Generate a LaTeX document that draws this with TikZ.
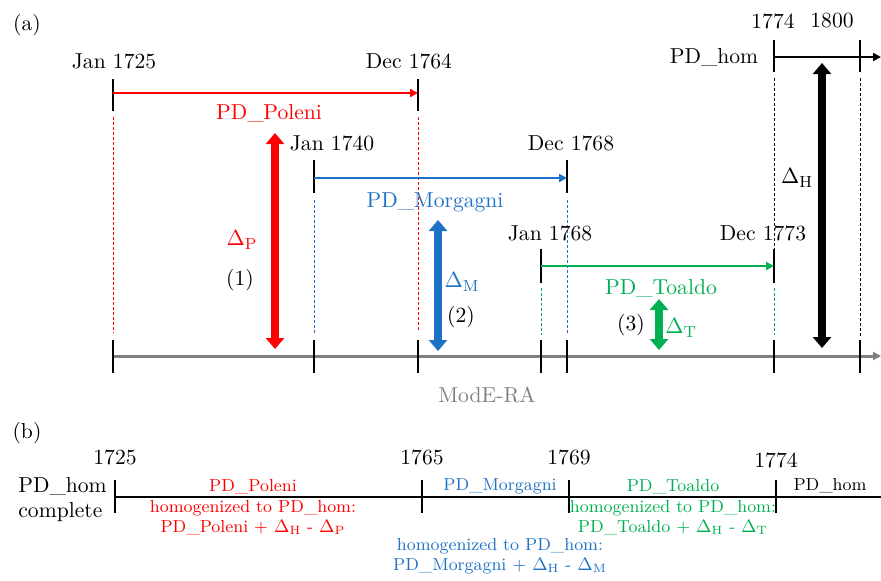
\documentclass[tikz,border=0pt]{standalone}
\usepackage{tikz}
\usetikzlibrary{arrows.meta,positioning}

\definecolor{polenired}{RGB}{255,0,0}
\definecolor{morgagniblue}{RGB}{30,114,198}
\definecolor{toaldogreen}{RGB}{0,176,80}
\definecolor{moderagray}{RGB}{128,128,128}

\tikzset{
  tickline/.style={line width=1.2pt},
  spanline/.style={line width=1pt,-{Triangle[length=4pt,width=4pt]}},
  guideline/.style={line width=0.5pt,dash pattern=on 1.5pt off 1pt},
  deltaarrow/.style={line width=4pt,{Triangle[length=5.5pt,width=9pt]}-{Triangle[length=5.5pt,width=9pt]}},
  bigtext/.style={inner sep=0pt,font=\fontsize{10.8}{12.5}\selectfont},
  smalltext/.style={inner sep=0pt,align=center,font=\fontsize{8.7}{10}\selectfont},
}

\begin{document}
\begin{tikzpicture}[x=0.5pt,y=-0.5pt]
\useasboundingbox (0,0) rectangle (881,580);

%----- (a) -----
\node[bigtext] (taga) at (27,25) {(a)};

% ModE-RA の軸
\coordinate (mleft) at (113,356);
\coordinate (mright) at (881,356);
\draw[moderagray,line width=1.5pt,-{Triangle[length=4pt,width=4pt]}] (mleft) -- (mright);
\foreach \xx in {113,314,418,541,567,774,860}
  \draw[tickline] (\xx,340) -- (\xx,373);
\node[bigtext,text=moderagray] (modera) at (487,395) {ModE-RA};

% PD_Poleni
\coordinate (poleniA) at (113,93);
\coordinate (poleniB) at (418,93);
\draw[tickline] (poleniA) +(0,-14) -- +(0,18);
\draw[tickline] (poleniB) +(0,-14) -- +(0,18);
\draw[spanline,polenired] (poleniA) -- (poleniB);
\node[bigtext] (poleniStart) at (114,61) {Jan 1725};
\node[bigtext] (poleniEnd) at (409,61) {Dec 1764};
\node[bigtext,text=polenired] (poleniName) at (269,113) {PD\_Poleni};
\draw[guideline,polenired] (113,117) -- (113,333);
\draw[guideline,polenired] (418,117) -- (418,331);
\coordinate (deltaPtop) at (275,133);
\coordinate (deltaPbot) at (275,349);
\draw[deltaarrow,polenired] (deltaPtop) -- (deltaPbot);
\node[bigtext,text=polenired] (deltaP) at (242,240) {$\Delta_{\mathrm{P}}$};
\node[bigtext] (num1) at (240,280) {(1)};

% PD_Morgagni
\coordinate (morgagniA) at (314,178);
\coordinate (morgagniB) at (567,178);
\draw[tickline] (morgagniA) +(0,-18) -- +(0,15);
\draw[tickline] (morgagniB) +(0,-18) -- +(0,15);
\draw[spanline,morgagniblue] (morgagniA) -- (morgagniB);
\node[bigtext] (morgagniStart) at (332,143) {Jan 1740};
\node[bigtext] (morgagniEnd) at (571,143) {Dec 1768};
\node[bigtext,text=morgagniblue] (morgagniName) at (435,202) {PD\_Morgagni};
\draw[guideline,morgagniblue] (314,200) -- (314,335);
\draw[guideline,morgagniblue] (567,200) -- (567,335);
\coordinate (deltaMtop) at (438,220);
\coordinate (deltaMbot) at (438,351);
\draw[deltaarrow,morgagniblue] (deltaMtop) -- (deltaMbot);
\node[bigtext,text=morgagniblue] (deltaM) at (462,282) {$\Delta_{\mathrm{M}}$};
\node[bigtext] (num2) at (461,317) {(2)};

% PD_Toaldo
\coordinate (toaldoA) at (541,266);
\coordinate (toaldoB) at (774,266);
\draw[tickline] (toaldoA) +(0,-17) -- +(0,17);
\draw[tickline] (toaldoB) +(0,-17) -- +(0,17);
\draw[spanline,toaldogreen] (toaldoA) -- (toaldoB);
\node[bigtext] (toaldoStart) at (550,233) {Jan 1768};
\node[bigtext] (toaldoEnd) at (763,233) {Dec 1773};
\node[bigtext,text=toaldogreen] (toaldoName) at (661,288) {PD\_Toaldo};
\draw[guideline,toaldogreen] (541,288) -- (541,335);
\draw[guideline,toaldogreen] (774,288) -- (774,335);
\coordinate (deltaTtop) at (659,299);
\coordinate (deltaTbot) at (659,350);
\draw[deltaarrow,toaldogreen] (deltaTtop) -- (deltaTbot);
\node[bigtext] (num3) at (631,325) {(3)};
\node[bigtext,text=toaldogreen] (deltaT) at (681,328) {$\Delta_{\mathrm{T}}$};

% PD_hom
\coordinate (homA) at (774,57);
\coordinate (homB) at (881,57);
\draw[tickline] (homA) +(0,-17) -- +(0,15);
\draw[tickline] (860,40) -- (860,72);
\draw[spanline] (homA) -- (homB);
\node[bigtext] (homStart) at (773,21) {1774};
\node[bigtext] (homMark) at (832,21) {1800};
\node[bigtext] (homName) at (714,57) {PD\_hom};
\draw[guideline] (774,78) -- (774,250);
\draw[guideline] (860,78) -- (860,336);
\coordinate (deltaHtop) at (822,63);
\coordinate (deltaHbot) at (822,348);
\draw[deltaarrow] (deltaHtop) -- (deltaHbot);
\node[bigtext] (deltaH) at (797,178) {$\Delta_{\mathrm{H}}$};

%----- (b) -----
\node[bigtext] (tagb) at (27,433) {(b)};
\node[bigtext,align=left,anchor=west] (homcomplete) at (18,500) {PD\_hom\\complete};
\coordinate (bleft) at (115,497);
\coordinate (bright) at (881,497);
\draw[line width=1.2pt] (bleft) -- (bright);
\foreach \xx/\yr/\yy in {115/1725/457,422/1765/457,569/1769/457,776/1774/460}
{
  \draw[tickline] (\xx,480) -- (\xx,513);
  \node[bigtext] (year\yr) at (\xx,\yy) {\yr};
}
\node[smalltext,text=polenired] (bPoleni) at (253,487) {PD\_Poleni};
\node[smalltext,text=polenired] (bPoleniHom) at (253,518)
  {homogenized to PD\_hom:\\PD\_Poleni + $\Delta_{\mathrm{H}}$ - $\Delta_{\mathrm{P}}$};
\node[smalltext,text=morgagniblue] (bMorgagni) at (500,486) {PD\_Morgagni};
\node[smalltext,text=morgagniblue] (bMorgagniHom) at (500,556)
  {homogenized to PD\_hom:\\PD\_Morgagni + $\Delta_{\mathrm{H}}$ - $\Delta_{\mathrm{M}}$};
\node[smalltext,text=toaldogreen] (bToaldo) at (673,487) {PD\_Toaldo};
\node[smalltext,text=toaldogreen] (bToaldoHom) at (673,518)
  {homogenized to PD\_hom:\\PD\_Toaldo + $\Delta_{\mathrm{H}}$ - $\Delta_{\mathrm{T}}$};
\node[smalltext] (bHom) at (830,486) {PD\_hom};
\end{tikzpicture}
\end{document}
